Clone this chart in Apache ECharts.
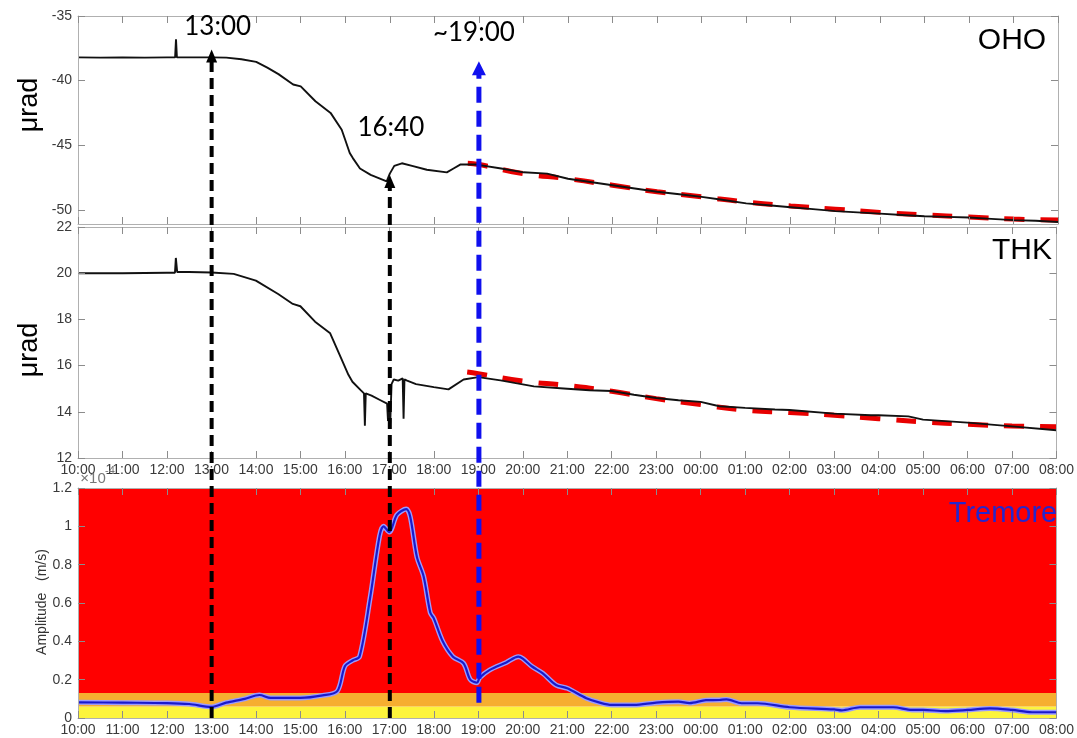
<!DOCTYPE html>
<html>
<head>
<meta charset="utf-8">
<script src="https://cdn.jsdelivr.net/npm/echarts@6/dist/echarts.min.js"></script>
<style>html,body{margin:0;padding:0;background:#fff}#main{width:1077px;height:738px}</style>
</head>
<body>
<div id="main"></div>
<script>
// ---------- DATA (time in hours since 00:00 of day 1; 24+ = next day) ----------
const hourTicks = [10,11,12,13,14,15,16,17,18,19,20,21,22,23,24,25,26,27,28,29,30,31,32];
const ohoTicks = [-50,-45,-40,-35];

const ohoT = [10,10.5,11,11.5,12,12.18,12.2,12.22,12.5,13,13.33,13.67,14,14.25,14.5,14.83,15,15.33,15.67,15.92,16,16.1,16.17,16.33,16.57,16.93,17,17.1,17.27,17.5,17.83,18.28,18.43,18.58,18.95,19.5,20,20.53,21,21.5,22,22.5,23,23.5,24,24.42,25,25.5,26,26.5,27,27.5,28,28.5,29,29.5,30,30.5,31,31.5,32];
const ohoV = [-38.2,-38.22,-38.2,-38.22,-38.2,-38.2,-36.8,-38.2,-38.2,-38.2,-38.22,-38.35,-38.55,-39.0,-39.5,-40.3,-40.45,-41.6,-42.5,-43.8,-44.6,-45.6,-46.0,-46.8,-47.3,-47.8,-47.2,-46.6,-46.4,-46.6,-46.9,-47.1,-46.8,-46.5,-46.5,-46.8,-47.1,-47.2,-47.6,-47.85,-48.1,-48.35,-48.6,-48.8,-49.0,-49.2,-49.5,-49.65,-49.8,-49.95,-50.1,-50.2,-50.3,-50.4,-50.5,-50.55,-50.6,-50.7,-50.8,-50.85,-50.95];
const ohoFitT = [18.75,19,20,21,22,23,24,25,26,27,28,29,30,31,32];
const ohoFitV = [-46.4,-46.5,-47.2,-47.6,-48.1,-48.6,-49.0,-49.4,-49.7,-49.95,-50.2,-50.4,-50.55,-50.72,-50.8];

const thkT = [10,11,12,12.18,12.2,12.23,12.5,13,13.5,14,14.5,14.83,15,15.33,15.67,15.92,16.08,16.17,16.35,16.43,16.45,16.47,16.6,16.8,16.95,16.97,17.0,17.02,17.05,17.1,17.2,17.3,17.32,17.34,17.4,17.6,18,18.33,18.67,19,19.5,20,20.25,21,21.5,22,22.5,23,23.5,24,24.42,25,25.67,26,27,27.83,28,28.67,29,30,31,32];
const thkV = [20.0,20.0,20.02,20.02,20.66,20.05,20.05,20.03,19.97,19.68,19.1,18.67,18.57,17.9,17.4,16.3,15.6,15.3,14.95,14.8,13.4,14.8,14.7,14.5,14.35,13.6,14.2,13.5,15.2,15.4,15.35,15.45,13.7,15.4,15.35,15.2,15.07,14.97,15.4,15.5,15.36,15.19,15.1,15.0,14.93,14.9,14.74,14.6,14.5,14.43,14.24,14.17,14.1,14.08,13.92,13.85,13.85,13.8,13.66,13.53,13.37,13.2];
const thkFitT = [18.75,19,20,21,22,23,24,25,26,27,28,29,30,31,32];
const thkFitV = [15.72,15.65,15.33,15.14,14.89,14.57,14.31,14.07,13.97,13.85,13.7,13.56,13.46,13.39,13.35];

// tremor amplitude, units of 1e-4 m/s
const trT = [10,11,12,12.5,13,13.33,13.75,14.08,14.33,15,15.5,15.83,16,16.17,16.33,16.57,16.78,16.87,17,17.17,17.38,17.47,17.62,17.77,17.92,18,18.2,18.43,18.67,18.82,18.97,19.03,19.25,19.63,19.9,20,20.2,20.45,20.75,21,21.43,21.73,22,22.5,23,23.5,23.75,24.12,24.42,24.58,24.92,25.28,26,27,27.17,27.58,28.33,28.75,29,29.5,30,30.5,31,31.45,32];
const trV = [0.082,0.08,0.078,0.073,0.058,0.08,0.1,0.12,0.105,0.105,0.118,0.14,0.27,0.3,0.32,0.63,0.95,1.0,0.97,1.06,1.09,1.05,0.84,0.74,0.55,0.52,0.40,0.32,0.285,0.20,0.184,0.21,0.25,0.29,0.32,0.31,0.27,0.233,0.172,0.155,0.103,0.08,0.068,0.068,0.08,0.085,0.078,0.093,0.094,0.097,0.077,0.077,0.056,0.045,0.04,0.056,0.056,0.042,0.042,0.036,0.042,0.05,0.042,0.03,0.03];

// alert bands on the tremor panel (x1e-4 m/s)
const bandLow = [0, 0.06, 0.13];
const bandHigh = [0.06, 0.13, 1.2];
const bandColors = ['#fdf43c', '#f6ae30', '#ff0000'];

// annotated times (arrows)
const arrowTimes = [13, 17, 19];
const arrowTipOHO = [-37.6, -47.3, -38.5];
const arrowBaseTremor = [0, 0, 0.08];
const arrowLabels = ['13:00', '16:40', '~19:00'];

// ---------- OPTION ----------
const zip = (t, v) => t.map((x, i) => [x, v[i]]);
const hourFmt = v => String(Math.round(v) % 24).padStart(2, '0') + ':00';
const FONT = 'Liberation Sans, Arial, sans-serif';
const axisCol = '#b0b0b0';
const tickStyle = {color: '#8c8c8c', width: 1};
const grids = [
  {left: 78, right: 19, top: 16, height: 208},
  {left: 78, right: 19, top: 227, height: 231},
  {left: 78, right: 19, top: 488, height: 230}
];
function xAx(gi, pos, labels) {
  return {
    type: 'value', gridIndex: gi, position: pos, min: 10, max: 32, interval: 1, z: 6,
    axisLine: {show: true, onZero: false, lineStyle: {color: axisCol, width: 1}},
    axisTick: {show: true, inside: true, length: 7, lineStyle: tickStyle},
    axisLabel: {show: labels, formatter: hourFmt, color: '#3a3a3a', fontSize: 14, fontFamily: FONT,
      margin: 5, showMinLabel: true, showMaxLabel: true, hideOverlap: false, interval: 0},
    splitLine: {show: false}
  };
}
function yAx(gi, pos, min, max, labels, extra) {
  return Object.assign({
    type: 'value', gridIndex: gi, position: pos, min: min, max: max, z: 6,
    axisLine: {show: true, onZero: false, lineStyle: {color: axisCol, width: 1}},
    axisTick: {show: true, inside: true, length: 7, lineStyle: tickStyle},
    axisLabel: {show: labels, color: '#3a3a3a', fontSize: 14, fontFamily: FONT, margin: 6,
      showMinLabel: true, showMaxLabel: true},
    splitLine: {show: false}
  }, extra || {});
}
const ohoExtra = {
  axisTick: {show: true, inside: true, length: 7, lineStyle: tickStyle, customValues: ohoTicks},
};
const ohoLabelExtra = {
  axisTick: {show: true, inside: true, length: 7, lineStyle: tickStyle, customValues: ohoTicks},
  axisLabel: {show: true, color: '#3a3a3a', fontSize: 14, fontFamily: FONT, margin: 6, customValues: ohoTicks}
};

const option = {
  animation: false,
  backgroundColor: '#ffffff',
  grid: grids,
  xAxis: [
    xAx(0, 'bottom', false), xAx(0, 'top', false),
    xAx(1, 'bottom', true), xAx(1, 'top', false),
    xAx(2, 'bottom', true), xAx(2, 'top', false)
  ],
  yAxis: [
    yAx(0, 'left', -51.1, -35, true, ohoLabelExtra), yAx(0, 'right', -51.1, -35, false, ohoExtra),
    yAx(1, 'left', 12, 22, true, {interval: 2}), yAx(1, 'right', 12, 22, false, {interval: 2}),
    yAx(2, 'left', 0, 1.2, true, {interval: 0.2}), yAx(2, 'right', 0, 1.2, false, {interval: 0.2})
  ],
  series: [
    {type: 'line', name: 'OHO fit', xAxisIndex: 0, yAxisIndex: 0, data: zip(ohoFitT, ohoFitV), smooth: true,
      showSymbol: false, z: 2, lineStyle: {color: '#e80000', width: 5, type: [20, 16]}},
    {type: 'line', name: 'OHO', xAxisIndex: 0, yAxisIndex: 0, data: zip(ohoT, ohoV), showSymbol: false, z: 3,
      lineStyle: {color: '#111', width: 1.9}},
    {type: 'line', name: 'THK fit', xAxisIndex: 2, yAxisIndex: 2, data: zip(thkFitT, thkFitV), smooth: true,
      showSymbol: false, z: 2, lineStyle: {color: '#e80000', width: 5, type: [20, 16]}},
    {type: 'line', name: 'THK', xAxisIndex: 2, yAxisIndex: 2, data: zip(thkT, thkV), showSymbol: false, z: 3,
      lineStyle: {color: '#111', width: 1.9}},
    {type: 'line', name: 'bands', xAxisIndex: 4, yAxisIndex: 4, data: [], z: 1, silent: true,
      markArea: {silent: true, data: bandLow.map((lo, i) => [
        {yAxis: lo, itemStyle: {color: bandColors[i], opacity: 1}}, {yAxis: bandHigh[i]}])}},
    {type: 'line', name: 'Tremore halo', xAxisIndex: 4, yAxisIndex: 4, data: zip(trT, trV), smooth: 0.3,
      showSymbol: false, z: 3, lineStyle: {color: '#9a9aff', width: 5}},
    {type: 'line', name: 'Tremore', xAxisIndex: 4, yAxisIndex: 4, data: zip(trT, trV), smooth: 0.3,
      showSymbol: false, z: 4, lineStyle: {color: '#1a1acc', width: 2.2}}
  ]
};

const chart = echarts.init(document.getElementById('main'));
chart.setOption(option);

// ---------- ANNOTATIONS (positions through the chart's own scales) ----------
const toPx = (si, x, y) => chart.convertToPixel({seriesIndex: si}, [x, y]);
const graphics = [];
arrowTimes.forEach((t, i) => {
  const tip = toPx(1, t, arrowTipOHO[i]);
  const base = toPx(6, t, arrowBaseTremor[i]);
  const blue = i === 2;
  const col = blue ? '#1010ee' : '#000000';
  const hw = blue ? 7 : 5.5, hh = blue ? 14 : 13;
  graphics.push({type: 'line', z: 100, silent: true,
    shape: {x1: tip[0], y1: base[1], x2: tip[0], y2: tip[1] + hh - 1},
    style: {stroke: col, lineWidth: blue ? 5 : 4, lineDash: blue ? [16, 8] : [11, 6]}});
  graphics.push({type: 'polygon', z: 101, silent: true,
    shape: {points: [[tip[0], tip[1]], [tip[0] - hw, tip[1] + hh], [tip[0] + hw, tip[1] + hh]]},
    style: {fill: col}});
});
const lab = (txt, x, y, font, color, extra) => Object.assign({type: 'text', z: 102, silent: true, x: x, y: y,
  style: {text: txt, font: font, fill: color || '#000', textAlign: 'center', textVerticalAlign: 'middle'}}, extra || {});
const p13 = toPx(1, arrowTimes[0], 0), p17 = toPx(1, arrowTimes[1], 0), p19 = toPx(1, arrowTimes[2], 0);
const annFont = '26px Lato, "Open Sans", sans-serif';
graphics.push(lab(arrowLabels[0], p13[0] + 6, 27, annFont));
graphics.push(lab(arrowLabels[1], p17[0] + 1, 128, annFont));
graphics.push(lab(arrowLabels[2], p19[0] - 5, 33, annFont));
graphics.push(lab('OHO', 1012, 41, '30px ' + FONT));
graphics.push(lab('THK', 1022, 251, '30px ' + FONT));
graphics.push(lab('Tremore', 1003, 514, '29px ' + FONT, '#2626cc'));
graphics.push(lab('μrad', 30, 105, '27px ' + FONT, '#000', {rotation: Math.PI / 2}));
graphics.push(lab('μrad', 30, 350, '27px ' + FONT, '#000', {rotation: Math.PI / 2}));
graphics.push(lab('Amplitude   (m/s)', 42, 602, '14px ' + FONT, '#333', {rotation: Math.PI / 2}));
graphics.push(lab('×10', 93, 479, '15px ' + FONT, '#777'));
graphics.push(lab('-4', 110, 471, '11px ' + FONT, '#777'));
chart.setOption({graphic: graphics});
</script>
</body>
</html>
